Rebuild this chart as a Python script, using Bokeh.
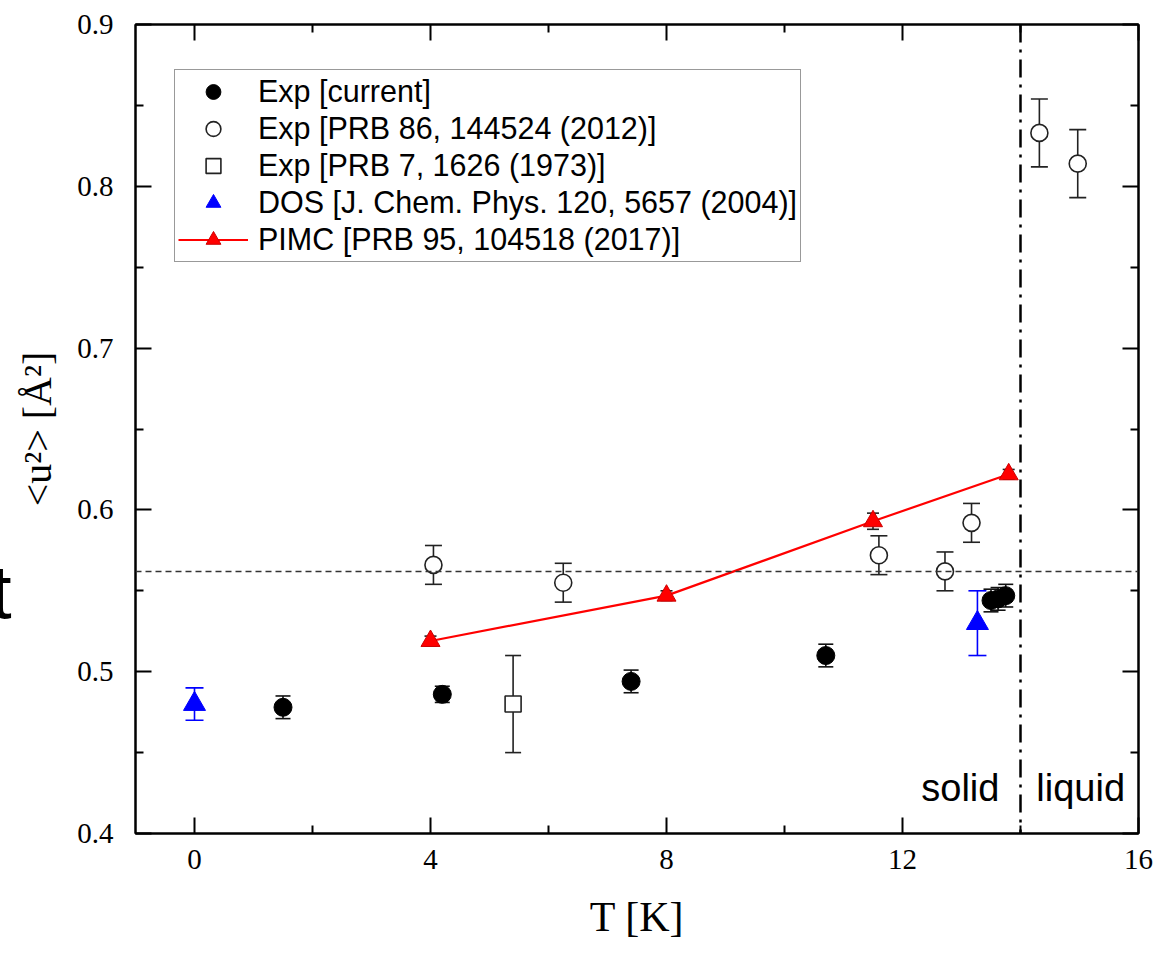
from bokeh.plotting import figure
from bokeh.models import (Range1d, LinearAxis, Whisker, TeeHead, ColumnDataSource,
                          Span, Label, Legend, LegendItem, FixedTicker)
from bokeh.embed import file_html
from bokeh.resources import INLINE

# Mean-square displacement <u^2> [A^2] vs temperature T [K]

# Exp [current]
cur_T = [1.5, 4.2, 7.4, 10.7, 13.5, 13.62, 13.75]
cur_u2 = [0.478, 0.486, 0.494, 0.510, 0.544, 0.545, 0.547]
cur_err = [0.007, 0.005, 0.007, 0.007, 0.007, 0.007, 0.007]

# Exp [PRB 86, 144524 (2012)]
prb86_T = [4.05, 6.25, 11.6, 12.72, 13.17, 14.32, 14.97]
prb86_u2 = [0.566, 0.555, 0.572, 0.562, 0.592, 0.833, 0.814]
prb86_err = [0.012, 0.012, 0.012, 0.012, 0.012, 0.021, 0.021]

# Exp [PRB 7, 1626 (1973)]
prb7_T = [5.4]
prb7_u2 = [0.480]
prb7_err = [0.030]

# DOS [J. Chem. Phys. 120, 5657 (2004)]
dos_T = [0.0, 13.27]
dos_u2 = [0.480, 0.530]
dos_err = [0.010, 0.020]

# PIMC [PRB 95, 104518 (2017)]
pimc_T = [4.0, 8.0, 11.5, 13.8]
pimc_u2 = [0.519, 0.547, 0.593, 0.622]
pimc_err = [0.003, 0.003, 0.005, 0.003]

ref_level = 0.562   # horizontal dashed reference
melt_T = 14.0       # solid / liquid boundary

x_ticks = [0, 4, 8, 12, 16]
x_minor = [2, 6, 10, 14]
y_ticks = [0.4, 0.5, 0.6, 0.7, 0.8, 0.9]
y_minor = [0.45, 0.55, 0.65, 0.75, 0.85]

SERIF = "Liberation Serif"
SANS = "Liberation Sans"


def src(T, u, e):
    return ColumnDataSource(dict(x=T, y=u,
                                 upper=[a + b for a, b in zip(u, e)],
                                 lower=[a - b for a, b in zip(u, e)]))


p = figure(width=1174, height=953, x_range=Range1d(-1, 16), y_range=Range1d(0.4, 0.9),
           output_backend="svg", toolbar_location=None,
           min_border_left=135, min_border_right=36, min_border_top=24, min_border_bottom=120,
           x_axis_location=None, y_axis_location=None)
p.grid.visible = False
p.outline_line_color = "black"
p.outline_line_width = 2
p.background_fill_color = "white"
p.border_fill_color = "white"


def style_axis(ax, ticks, minor, show_labels):
    ax.ticker = FixedTicker(ticks=ticks, minor_ticks=minor)
    ax.axis_line_color = "black"
    ax.axis_line_width = 2
    ax.major_tick_in = 16
    ax.major_tick_out = 0
    ax.minor_tick_in = 8
    ax.minor_tick_out = 0
    ax.major_tick_line_width = 2
    ax.minor_tick_line_width = 2
    ax.major_tick_line_color = "black"
    ax.minor_tick_line_color = "black"
    if show_labels:
        ax.major_label_text_font = SERIF
        ax.major_label_text_font_size = "29px"
        ax.major_label_text_color = "black"
        ax.axis_label_text_font = SERIF
        ax.axis_label_text_font_style = "normal"
        ax.axis_label_text_color = "black"
    else:
        ax.major_label_text_font_size = "0px"
        ax.major_label_standoff = 0


xb = LinearAxis(axis_label="T [K]")
style_axis(xb, x_ticks, x_minor, True)
xb.major_label_standoff = 16
xb.axis_label_text_font_size = "42px"
xb.axis_label_standoff = 22
p.add_layout(xb, "below")

yl = LinearAxis(axis_label="<u²> [Å²]")
style_axis(yl, y_ticks, y_minor, True)
yl.major_label_standoff = 22
yl.axis_label_text_font_size = "40px"
yl.axis_label_standoff = 14
p.add_layout(yl, "left")

xt = LinearAxis()
style_axis(xt, x_ticks, x_minor, False)
p.add_layout(xt, "above")

yr = LinearAxis()
style_axis(yr, y_ticks, y_minor, False)
p.add_layout(yr, "right")

# reference lines
p.add_layout(Span(location=ref_level, dimension="width", line_color="#333333",
                  line_width=1.5, line_dash="6 4"))
p.add_layout(Span(location=melt_T, dimension="height", line_color="black",
                  line_width=2.5, line_dash="18 7 3 7"))


def bars(s, color, size=16):
    w = Whisker(source=s, base="x", upper="upper", lower="lower", dimension="height",
                line_color=color, line_width=1.6,
                upper_head=TeeHead(size=size, line_color=color, line_width=1.6),
                lower_head=TeeHead(size=size, line_color=color, line_width=1.6))
    p.add_layout(w)


s_cur = src(cur_T, cur_u2, cur_err)
s_86 = src(prb86_T, prb86_u2, prb86_err)
s_7 = src(prb7_T, prb7_u2, prb7_err)
s_dos = src(dos_T, dos_u2, dos_err)
s_pimc = src(pimc_T, pimc_u2, pimc_err)

bars(s_86, "#222222", 17)
bars(s_7, "#222222", 16)
bars(s_dos, "#0000ff", 18)
bars(s_cur, "#111111", 15)

r_pimc_line = p.line("x", "y", source=s_pimc, line_color="#ff0000", line_width=2.2)
bars(s_pimc, "#222222", 12)

r_86 = p.scatter("x", "y", source=s_86, marker="circle", size=17,
                 fill_color="white", line_color="#222222", line_width=1.6)
r_7 = p.scatter("x", "y", source=s_7, marker="square", size=16,
                fill_color="white", line_color="#222222", line_width=1.6)
r_cur = p.scatter("x", "y", source=s_cur, marker="circle", size=18,
                  fill_color="black", line_color="black")
r_dos = p.scatter("x", "y", source=s_dos, marker="triangle", size=22,
                  fill_color="#0000ff", line_color="#0000ff")
r_pimc = p.scatter("x", "y", source=s_pimc, marker="triangle", size=19,
                   fill_color="#ff0000", line_color="#cc0000")

legend = Legend(items=[
    LegendItem(label="Exp [current]", renderers=[r_cur]),
    LegendItem(label="Exp [PRB 86, 144524 (2012)]", renderers=[r_86]),
    LegendItem(label="Exp [PRB 7, 1626 (1973)]", renderers=[r_7]),
    LegendItem(label="DOS [J. Chem. Phys. 120, 5657 (2004)]", renderers=[r_dos]),
    LegendItem(label="PIMC [PRB 95, 104518 (2017)]", renderers=[r_pimc_line, r_pimc]),
], location=(39, 571))
legend.label_text_font = SANS
legend.label_text_font_size = "30.5px"
legend.label_text_color = "black"
legend.label_height = 37
legend.glyph_height = 37
legend.glyph_width = 70
legend.label_standoff = 10
legend.spacing = 0
legend.padding = 3
legend.margin = 0
legend.border_line_color = "#333333"
legend.border_line_width = 1.5
legend.background_fill_alpha = 1.0
p.add_layout(legend, "center")

# phase labels
for txt, xv in (("solid", 12.98), ("liquid", 15.02)):
    p.add_layout(Label(x=xv, y=0.4284, text=txt, text_align="center",
                       text_baseline="alphabetic", text_font=SANS,
                       text_font_size="38px", text_color="black"))

# partial glyph at the far left edge; placed in a side panel (unclipped) and
# positioned in canvas pixels
p.add_layout(Label(x=-10, y=591, x_units="canvas", y_units="canvas", text="t",
                   text_align="left", text_baseline="alphabetic", text_font=SANS,
                   text_font_size="76px", text_color="black"), "right")

open("out.html", "w").write(file_html(p, INLINE))
